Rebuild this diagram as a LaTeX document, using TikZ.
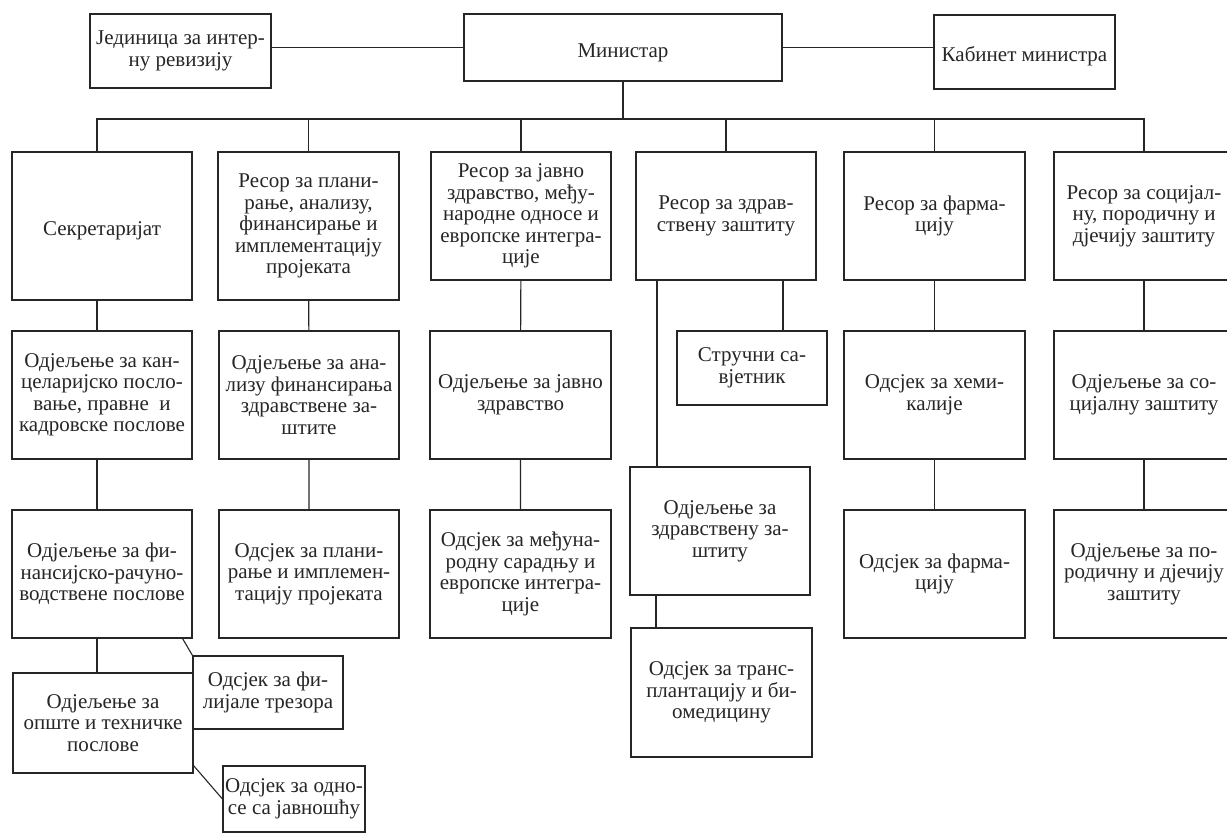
\documentclass[tikz,border=0pt]{standalone}
\usepackage{fontspec}
\setmainfont{Liberation Serif}
\begin{document}
\begin{tikzpicture}[x=1pt,y=-1pt,
  box/.style={draw=black!85, line width=1.1pt, align=center, inner sep=0pt,
    font=\fontsize{21}{21.5}\selectfont, text=black!85,
    execute at begin node={\rule{0pt}{24pt}}},
  conn/.style={draw=black!85, line width=1.1pt}]
\useasboundingbox[fill=white] (0,0) rectangle (1227,837);
% top row
\node[box, minimum width=181pt, minimum height=74pt] (jed) at (180.5,51) {Јединица за интер-\\ну ревизију};
\node[box, minimum width=318pt, minimum height=67pt] (min) at (623,47.5) {Министар};
\node[box, minimum width=181pt, minimum height=74pt] (kab) at (1024.5,52) {Кабинет министра};
% second row
\node[box, minimum width=180pt, minimum height=148pt] (sek) at (102,226) {Секретаријат};
\node[box, minimum width=181pt, minimum height=148pt] (rpl) at (308.5,226) {Ресор за плани-\\рање, анализу,\\финансирање и\\имплементацију\\пројеката};
\node[box, minimum width=180pt, minimum height=128pt] (rjz) at (521,216) {Ресор за јавно\\здравство, међу-\\народне односе и\\европске интегра-\\ције};
\node[box, minimum width=180pt, minimum height=128pt] (rzz) at (726,216) {Ресор за здрав-\\ствену заштиту};
\node[box, minimum width=181pt, minimum height=128pt] (rfa) at (934.5,216) {Ресор за фарма-\\цију};
\node[box, minimum width=180pt, minimum height=128pt] (rso) at (1144,216) {Ресор за социјал-\\ну, породичну и\\дјечију заштиту};
% third row
\node[box, minimum width=180pt, minimum height=128pt] (okan) at (102,395) {Одјељење за кан-\\целаријско посло-\\вање, правне~ и\\кадровске послове};
\node[box, minimum width=180pt, minimum height=128pt] (oana) at (309,395) {Одјељење за ана-\\лизу финансирања\\здравствене за-\\штите};
\node[box, minimum width=181pt, minimum height=128pt] (ojz) at (520.5,395) {Одјељење за јавно\\здравство};
\node[box, minimum width=150pt, minimum height=74pt] (str) at (752,368) {Стручни са-\\вјетник};
\node[box, minimum width=181pt, minimum height=128pt] (ohem) at (934.5,395) {Одсјек за хеми-\\калије};
\node[box, minimum width=180pt, minimum height=128pt] (osoc) at (1144,395) {Одјељење за со-\\цијалну заштиту};
% fourth row
\node[box, minimum width=180pt, minimum height=128pt] (ofi) at (102,574) {Одјељење за фи-\\нансијско-рачуно-\\водствене послове};
\node[box, minimum width=180pt, minimum height=128pt] (opl) at (309,574) {Одсјек за плани-\\рање и имплемен-\\тацију пројеката};
\node[box, minimum width=181pt, minimum height=128pt] (omed) at (520.5,574) {Одсјек за међуна-\\родну сарадњу и\\европске интегра-\\ције};
\node[box, minimum width=180pt, minimum height=128pt] (ozz) at (720,531) {Одјељење за\\здравствену за-\\штиту};
\node[box, minimum width=181pt, minimum height=129pt] (otr) at (721.5,692.5) {Одсјек за транс-\\плантацију и би-\\омедицину};
\node[box, minimum width=181pt, minimum height=128pt] (ofar) at (934.5,574) {Одсјек за фарма-\\цију};
\node[box, minimum width=180pt, minimum height=128pt] (opor) at (1144,574) {Одјељење за по-\\родичну и дјечију\\заштиту};
% bottom-left cluster
\node[box, minimum width=180pt, minimum height=100pt] (oop) at (103,723) {Одјељење за\\опште и техничке\\послове};
\node[box, minimum width=150pt, minimum height=73pt] (ofil) at (268,692.5) {Одсјек за фи-\\лијале трезора};
\node[box, minimum width=142pt, minimum height=66pt] (oodn) at (294,799) {Одсјек за одно-\\се са јавношћу};
% connectors
\coordinate (busy) at (0,119);
\draw[conn] (min.west) -- (min.west -| jed.east);
\draw[conn] (min.east) -- (min.east -| kab.west);
\draw[conn] (min.south) -- (min.south |- busy);
\draw[conn] ([xshift=-5pt]sek.north) -- ([xshift=-5pt]sek.north |- busy) -- (rso.north |- busy) -- (rso.north);
\draw[conn] (rpl.north) -- (rpl.north |- busy);
\draw[conn] (rjz.north) -- (rjz.north |- busy);
\draw[conn] (rzz.north) -- (rzz.north |- busy);
\draw[conn] (rfa.north) -- (rfa.north |- busy);
\draw[conn] ([xshift=-5pt]sek.south) -- ([xshift=-5pt]okan.north);
\draw[conn] ([xshift=-5pt]okan.south) -- ([xshift=-5pt]ofi.north);
\draw[conn] ([xshift=-5pt]ofi.south) -- ([xshift=-5pt]ofi.south |- oop.north);
\draw[conn] ([xshift=-10pt]ofi.south east) -- (ofil.north west);
\draw[conn] ([yshift=8pt]oop.south east) -- (oodn.west);
\draw[conn] (rpl) -- (oana) -- (opl);
\draw[conn] (rjz) -- (ojz) -- (omed);
\draw[conn] ([xshift=-69pt]rzz.south) -- ([xshift=-69pt]rzz.south |- ozz.north);
\draw[conn] ([xshift=57pt]rzz.south) -- ([xshift=57pt]rzz.south |- str.north);
\draw[conn] ([xshift=-64pt]ozz.south) -- ([xshift=-64pt]ozz.south |- otr.north);
\draw[conn] (rfa) -- (ohem) -- (ofar);
\draw[conn] (rso) -- (osoc) -- (opor);
\end{tikzpicture}
\end{document}
